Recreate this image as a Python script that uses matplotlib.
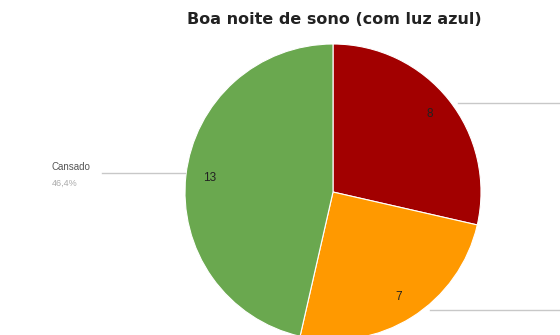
import matplotlib
matplotlib.use("Agg")
import matplotlib.pyplot as plt
import numpy as np

plt.rcParams['font.family'] = ['Liberation Sans', 'DejaVu Sans']

# dados da pizza (sentido horário a partir do topo)
categorias = ["Descansado", "Normal", "Cansado"]
valores = [8, 7, 13]
cores = ["#a20000", "#ff9900", "#6aa84f"]
titulo = "Boa noite de sono (com luz azul)"

W, H = 560, 335
fig = plt.figure(figsize=(W / 100, H / 100), dpi=100)
ax = fig.add_axes([0, 0, 1, 1])

cx, cy, r = 333, H - 192, 148
wedges, _ = ax.pie(valores, colors=cores, startangle=90, counterclock=False,
                   center=(cx, cy), radius=r,
                   wedgeprops=dict(linewidth=0.8, edgecolor="white"))

total = sum(valores)
for w, v in zip(wedges, valores):
    ang = np.deg2rad((w.theta1 + w.theta2) / 2)
    ax.text(cx + 0.84 * r * np.cos(ang), cy + 0.84 * r * np.sin(ang), str(v),
            ha="center", va="center", fontsize=8.5, color="#222222")

# linhas de rótulo (os rótulos da direita ficam fora do quadro)
ax.plot([102, 185], [H - 173, H - 173], color="#c8c8c8", lw=1)
ax.plot([458, W], [H - 103, H - 103], color="#c8c8c8", lw=1)
ax.plot([430, W], [H - 310, H - 310], color="#c8c8c8", lw=1)

pct = valores[2] / total * 100
ax.text(52, H - 167, categorias[2], fontsize=7, color="#555555", va="center")
ax.text(52, H - 183, f"{pct:.1f}%".replace(".", ","), fontsize=6.5,
        color="#aaaaaa", va="center")

ax.text(334, H - 20, titulo, ha="center", va="center", fontsize=11.5,
        fontweight="bold", color="#222222", family="DejaVu Sans")

ax.set_xlim(0, W)
ax.set_ylim(0, H)
ax.axis("off")
fig.savefig("out.png", dpi=100)
